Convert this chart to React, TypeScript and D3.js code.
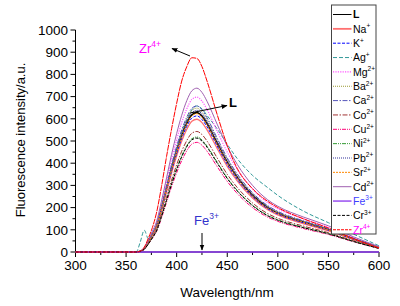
import React from "react";
import * as d3 from "d3";

const wavelengths = [300, 360, 364, 368, 372, 376, 380, 385, 390, 395, 400, 405, 410, 415, 420, 425, 430, 440, 450, 460, 475, 490, 500, 525, 550, 575, 600];

const seriesNames = ["L", "Na", "K", "Ag", "Mg", "Ba", "Ca", "Co", "Cu", "Ni", "Pb", "Sr", "Cd", "Fe", "Cr", "Zr"];
const seriesCharges = ["", "+", "+", "+", "2+", "2+", "2+", "2+", "2+", "2+", "2+", "2+", "2+", "3+", "3+", "4+"];

const valuesL = [0, 0, 3, 16, 44, 79, 115, 195, 285, 375, 455, 525, 580, 618, 628, 612, 578, 490, 405, 335, 255, 200, 175, 135, 100, 58, 20];
const valuesNa = [0, 0, 3, 15, 42, 75, 110, 186, 271, 357, 433, 500, 553, 589, 598, 583, 550, 467, 386, 319, 243, 190, 167, 128, 95, 55, 19];
const valuesK = [0, 0, 3, 15, 43, 77, 113, 191, 278, 366, 444, 512, 566, 603, 613, 597, 564, 478, 395, 327, 249, 195, 171, 132, 98, 57, 20];
const valuesAg = [0, 0, 45, 98, 60, 85, 120, 200, 290, 380, 462, 535, 595, 640, 658, 645, 615, 555, 485, 420, 345, 290, 255, 185, 132, 80, 28];
const valuesMg = [0, 0, 4, 18, 49, 88, 128, 217, 316, 417, 505, 583, 645, 687, 698, 680, 642, 545, 450, 372, 284, 222, 195, 150, 111, 64, 22];
const valuesBa = [0, 0, 3, 16, 46, 81, 119, 202, 294, 387, 469, 541, 599, 638, 648, 631, 596, 506, 418, 346, 263, 206, 181, 139, 103, 60, 21];
const valuesCa = [0, 0, 3, 17, 46, 83, 121, 205, 298, 393, 477, 550, 608, 647, 658, 641, 605, 513, 424, 351, 267, 209, 183, 141, 105, 61, 21];
const valuesCo = [0, 0, 3, 14, 38, 68, 100, 169, 246, 324, 393, 454, 502, 535, 543, 529, 500, 424, 350, 290, 221, 173, 152, 117, 87, 50, 17];
const valuesCu = [0, 0, 2, 12, 35, 62, 91, 153, 224, 295, 357, 412, 456, 486, 494, 481, 454, 385, 318, 263, 200, 157, 138, 106, 79, 46, 16];
const valuesNi = [0, 0, 3, 13, 36, 65, 95, 161, 235, 309, 375, 433, 479, 510, 518, 505, 477, 405, 334, 277, 211, 165, 145, 111, 83, 48, 17];
const valuesPb = [0, 0, 3, 16, 45, 80, 117, 198, 289, 381, 462, 533, 589, 628, 638, 621, 587, 498, 412, 340, 259, 203, 178, 137, 102, 59, 20];
const valuesSr = [0, 0, 3, 16, 44, 78, 114, 194, 283, 372, 451, 521, 576, 613, 623, 607, 573, 486, 402, 333, 253, 198, 174, 134, 99, 58, 20];
const valuesCd = [0, 0, 4, 19, 52, 93, 135, 229, 334, 440, 534, 616, 682, 726, 738, 719, 679, 576, 476, 394, 300, 235, 206, 158, 118, 68, 24];
const valuesFe = [0, 0, 0, 0, 0, 0, 0, 0, 0, 0, 0, 0, 0, 0, 0, 0, 0, 0, 0, 0, 0, 0, 0, 0, 0, 0, 0];
const valuesCr = [0, 0, 3, 13, 36, 64, 94, 160, 233, 306, 372, 429, 474, 505, 513, 500, 472, 401, 331, 274, 209, 163, 143, 110, 82, 47, 16];
const valuesZr = [0, 0, 4, 22, 62, 110, 175, 295, 430, 555, 670, 770, 835, 875, 872, 835, 770, 620, 480, 375, 285, 228, 200, 150, 108, 60, 18];

const seriesValues = [valuesL, valuesNa, valuesK, valuesAg, valuesMg, valuesBa, valuesCa, valuesCo, valuesCu, valuesNi, valuesPb, valuesSr, valuesCd, valuesFe, valuesCr, valuesZr];

const yTicks = [0, 100, 200, 300, 400, 500, 600, 700, 800, 900, 1000];
const xTicks = [300, 350, 400, 450, 500, 550, 600];

const styles = [
  { color: "#000000", dash: "", width: 1.6, legendWidth: 1, text: "#000000" },
  { color: "#FF7070", dash: "", width: 1.3, legendWidth: 1.8, text: "#000000" },
  { color: "#0000FF", dash: "3,1.5", width: 1, legendWidth: 1, text: "#000000" },
  { color: "#339999", dash: "4,2", width: 1, legendWidth: 1, text: "#000000" },
  { color: "#FF55FF", dash: "1.2,1.2", width: 1.2, legendWidth: 1.2, text: "#000000" },
  { color: "#999933", dash: "1,1", width: 1, legendWidth: 1, text: "#000000" },
  { color: "#5555BB", dash: "5,1.5,1.5,1.5", width: 1, legendWidth: 1, text: "#000000" },
  { color: "#A03333", dash: "5,1.5,1.5,1.5", width: 1, legendWidth: 1, text: "#000000" },
  { color: "#FF0077", dash: "4,1,1,1,1,1", width: 1, legendWidth: 1, text: "#000000" },
  { color: "#339933", dash: "4,1,1,1,1,1", width: 1, legendWidth: 1, text: "#000000" },
  { color: "#333399", dash: "1,1", width: 1.2, legendWidth: 1.2, text: "#000000" },
  { color: "#FF8800", dash: "2,1", width: 1, legendWidth: 1, text: "#000000" },
  { color: "#A060B0", dash: "", width: 1, legendWidth: 1, text: "#000000" },
  { color: "#8833EE", dash: "", width: 1.3, legendWidth: 1.3, text: "#4040FF" },
  { color: "#000000", dash: "3,1.5", width: 1, legendWidth: 1, text: "#000000" },
  { color: "#FF0000", dash: "6,0.8", width: 1, legendWidth: 1, text: "#FF00FF" },
];
const zrLegendDash = "3,1";

const W = 400;
const H = 306;
const font = "'Liberation Sans', Arial, sans-serif";

export default function App() {
  const x = d3.scaleLinear().domain([300, 600]).range([75.5, 379]);
  const y = d3.scaleLinear().domain([0, 1000]).range([252, 30]);
  const line = d3
    .line<number>()
    .x((_, i) => x(wavelengths[i]))
    .y((d) => y(d))
    .curve(d3.curveMonotoneX);

  const yMinor = d3.range(50, 1000, 100);
  const xMinor = d3.range(325, 600, 50);

  const legX = 331.5;
  const legTop = 5;
  const legBottom = 234;
  const legStep = 14.35;
  const legY0 = 14.5;

  return (
    <svg
      width={W}
      height={H}
      style={{ position: "absolute", left: 0, top: 0, background: "#fff" }}
      fontFamily={font}
    >
      <defs>
        <marker id="ah" viewBox="0 0 10 10" refX="9" refY="5" markerWidth="6" markerHeight="6" orient="auto-start-reverse">
          <path d="M0,1 L10,5 L0,9 z" fill="#000" />
        </marker>
      </defs>
      <rect x={0} y={0} width={W} height={H} fill="#fff" />

      {/* axes */}
      <line x1={x(300)} x2={x(300)} y1={y(1000)} y2={y(0)} stroke="#000" strokeWidth={1} />
      <line x1={x(300)} x2={x(600)} y1={y(0)} y2={y(0)} stroke="#000" strokeWidth={1} />
      {yTicks.map((t) => (
        <g key={"y" + t}>
          <line x1={x(300) - 5} x2={x(300)} y1={y(t)} y2={y(t)} stroke="#000" />
          <text x={x(300) - 7.5} y={y(t)} dy="0.36em" textAnchor="end" fontSize={13.5} fill="#000">
            {t}
          </text>
        </g>
      ))}
      {yMinor.map((t) => (
        <line key={"ym" + t} x1={x(300) - 3} x2={x(300)} y1={y(t)} y2={y(t)} stroke="#000" />
      ))}
      {xTicks.map((t) => (
        <g key={"x" + t}>
          <line x1={x(t)} x2={x(t)} y1={y(0)} y2={y(0) + 5} stroke="#000" />
          <text x={x(t)} y={270} textAnchor="middle" fontSize={13.5} fill="#000">
            {t}
          </text>
        </g>
      ))}
      {xMinor.map((t) => (
        <line key={"xm" + t} x1={x(t)} x2={x(t)} y1={y(0)} y2={y(0) + 3} stroke="#000" />
      ))}

      {/* curves */}
      {seriesValues.map((vals, i) => (
        <path
          key={seriesNames[i]}
          d={line(vals) || ""}
          fill="none"
          stroke={styles[i].color}
          strokeWidth={styles[i].width}
          strokeDasharray={styles[i].dash || undefined}
        />
      ))}

      {/* axis titles */}
      <text x={227} y={297} textAnchor="middle" fontSize={13.5} fill="#000">
        Wavelength/nm
      </text>
      <text
        transform="translate(25,140) rotate(-90)"
        textAnchor="middle"
        fontSize={13}
        fill="#000"
      >
        Fluorescence intensity/a.u.
      </text>

      {/* annotations */}
      <text x={139} y={53} fontSize={13} fill="#FF00FF">
        Zr
        <tspan dy={-6} fontSize={8.5}>4+</tspan>
      </text>
      <line x1={190} y1={56} x2={172} y2={48.5} stroke="#000" strokeWidth={1} markerEnd="url(#ah)" />

      <text x={229} y={107} fontSize={13} fontWeight="bold" fill="#000">
        L
      </text>
      <line x1={190} y1={113} x2={227} y2={105.5} stroke="#000" strokeWidth={1} markerEnd="url(#ah)" />

      <text x={194} y={225} fontSize={13} fill="#3333CC">
        Fe
        <tspan dy={-6} fontSize={8.5}>3+</tspan>
      </text>
      <line x1={202} y1={233} x2={202} y2={250} stroke="#000" strokeWidth={1} markerEnd="url(#ah)" />

      {/* legend */}
      <rect x={legX} y={legTop} width={376 - legX} height={legBottom - legTop} fill="#fff" stroke="#444" strokeWidth={1} />
      {seriesNames.map((n, i) => {
        const ly = legY0 + i * legStep;
        return (
          <g key={"leg" + n}>
            <line
              x1={legX + 1.5}
              x2={legX + 20}
              y1={ly}
              y2={ly}
              stroke={styles[i].color}
              strokeWidth={styles[i].legendWidth}
              strokeDasharray={(n === "Zr" ? zrLegendDash : styles[i].dash) || undefined}
            />
            <text x={legX + 21.5} y={ly + 3.8} fontSize={10.5} fill={styles[i].text} fontWeight={n === "L" ? "bold" : "normal"}>
              {n}
              {seriesCharges[i] && (
                <tspan dy={-4.5} fontSize={6.5}>
                  {seriesCharges[i]}
                </tspan>
              )}
            </text>
          </g>
        );
      })}
    </svg>
  );
}
